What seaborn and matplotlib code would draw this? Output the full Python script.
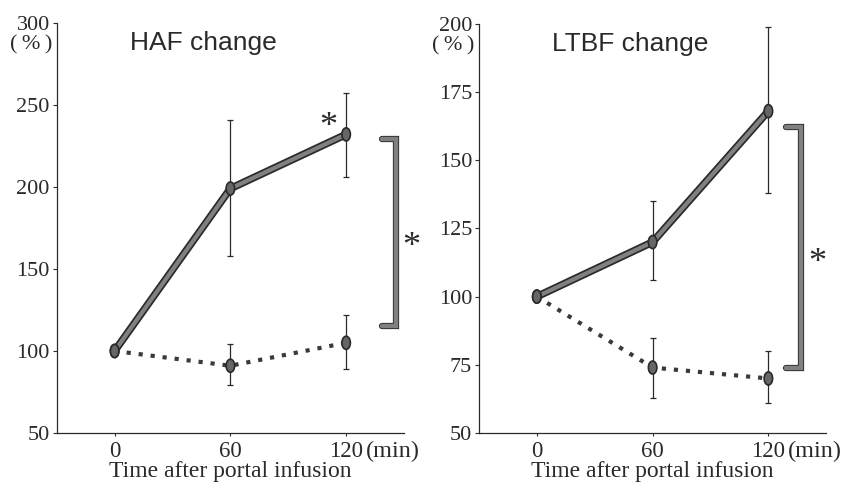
import numpy as np
import pandas as pd
import matplotlib.pyplot as plt
import matplotlib.patheffects as pe
from matplotlib.patches import Ellipse
import seaborn as sns

# data
times = [0, 60, 120]

haf_infused = [100, 199, 232]
haf_infused_lo = [100, 158, 206]
haf_infused_hi = [100, 241, 257]
haf_control = [100, 91, 105]
haf_control_lo = [100, 79, 89]
haf_control_hi = [100, 104, 122]

ltbf_infused = [100, 120, 168]
ltbf_infused_lo = [100, 106, 138]
ltbf_infused_hi = [100, 135, 199]
ltbf_control = [100, 74, 70]
ltbf_control_lo = [100, 63, 61]
ltbf_control_hi = [100, 85, 80]

haf_bracket = [115, 229]
ltbf_bracket = [74, 162]

sns.set_theme(style="ticks")
plt.rcParams['font.family'] = ['Liberation Serif', 'DejaVu Serif']

fig = plt.figure(figsize=(8.47, 4.86), dpi=100)
ax1 = fig.add_axes([0.067, 0.109, 0.410, 0.844])
ax2 = fig.add_axes([0.5655, 0.109, 0.410, 0.842])

ink = '#2a2a2a'
grey = '#808080'
FS = 16


def panel(ax, inf, inf_lo, inf_hi, ctl, ctl_lo, ctl_hi, ylim, yticks, title,
          title_y, bracket, bx, star_mid, star_end):
    df = pd.DataFrame({
        'time': times * 2,
        'value': inf + ctl,
        'group': ['infused'] * 3 + ['control'] * 3,
    })
    sns.lineplot(data=df[df.group == 'infused'], x='time', y='value', ax=ax,
                 color=grey, lw=3,
                 path_effects=[pe.Stroke(linewidth=5.5, foreground=ink), pe.Normal()])
    sns.lineplot(data=df[df.group == 'control'], x='time', y='value', ax=ax,
                 color='#3a3a3a', lw=3, linestyle=(0, (1.0, 1.9)))
    for y, lo, hi in [(inf, inf_lo, inf_hi), (ctl, ctl_lo, ctl_hi)]:
        y = np.array(y)
        err = [y - np.array(lo), np.array(hi) - y]
        ax.errorbar(times[1:], y[1:], yerr=[err[0][1:], err[1][1:]], fmt='none',
                    ecolor=ink, elinewidth=0.9, capsize=2.5, capthick=0.9, zorder=1)
    # elliptical markers
    yr = ylim[1] - ylim[0]
    for t, v in zip(times + times, inf + ctl):
        ax.add_patch(Ellipse((t, v), width=4.4, height=yr * 0.032, facecolor='#666666',
                             edgecolor=ink, lw=1.2, zorder=5))

    ax.set_xlim(-30, 150)
    ax.set_ylim(*ylim)
    ax.set_yticks(yticks)
    ax.set_xticks(times)
    ax.set_xticklabels(['0', '60', '120'])
    ax.tick_params(axis='both', labelsize=FS, width=0.8, colors=ink)
    ax.tick_params(axis='x', pad=4, length=2, labelsize=16.5)
    ax.tick_params(axis='y', pad=2, length=3)
    for s in ['top', 'right']:
        ax.spines[s].set_visible(False)
    for s in ['left', 'bottom']:
        ax.spines[s].set_color(ink)
        ax.spines[s].set_linewidth(0.9)
    ax.set_xlabel('Time after portal infusion', fontsize=17, color=ink)
    ax.xaxis.set_label_coords(0.5, -0.068)
    ax.set_ylabel('')
    ax.annotate('(min)', xy=(130, 0), xycoords=('data', 'axes fraction'),
                xytext=(0, -6), textcoords='offset points', fontsize=17.5,
                color=ink, va='top', ha='left', annotation_clip=False)
    ax.text(-0.012, 0.946, '(\u2009%\u2009)', transform=ax.transAxes, ha='right',
            va='center', fontsize=FS, color=ink)
    ax.text(8, title_y, title, fontsize=19, color=ink, family='Liberation Sans',
            va='center')

    # significance bracket
    x0, x1 = bx
    ax.plot([x0, x1, x1, x0], [bracket[1], bracket[1], bracket[0], bracket[0]],
            color=grey, lw=3.2, clip_on=False,
            path_effects=[pe.Stroke(linewidth=4.5, foreground=ink), pe.Normal()],
            solid_joinstyle='miter')
    ax.text(star_mid[0], star_mid[1], '*', fontsize=26, color=ink,
            ha='center', va='center', clip_on=False)
    if star_end is not None:
        ax.text(star_end[0], star_end[1], '*', fontsize=26, color=ink,
                ha='center', va='center')


panel(ax1, haf_infused, haf_infused_lo, haf_infused_hi,
      haf_control, haf_control_lo, haf_control_hi,
      (50, 300), [50, 100, 150, 200, 250, 300], 'HAF change', 288,
      haf_bracket, (138.5, 146), (154, 163), (111, 236))
panel(ax2, ltbf_infused, ltbf_infused_lo, ltbf_infused_hi,
      ltbf_control, ltbf_control_lo, ltbf_control_hi,
      (50, 200), [50, 75, 100, 125, 150, 175, 200], 'LTBF change', 192.5,
      ltbf_bracket, (129, 137), (145.5, 112), None)

fig.savefig('out.png', dpi=100, facecolor='white')
